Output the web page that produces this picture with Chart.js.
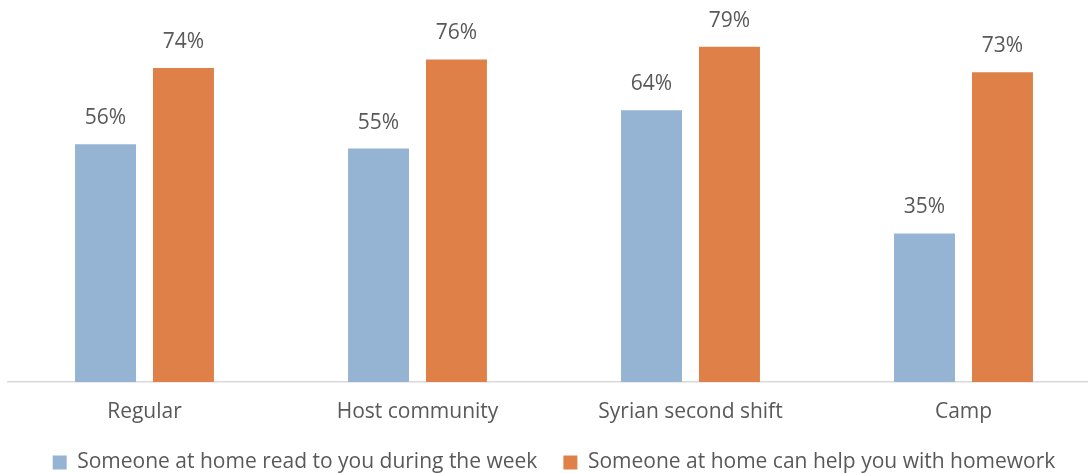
<!DOCTYPE html>
<html>
<head>
<meta charset="utf-8">
<script src="https://cdn.jsdelivr.net/npm/chart.js@4/dist/chart.umd.min.js"></script>
<style>
  html, body { margin: 0; padding: 0; background: #fff; overflow: hidden; }
  #wrap { position: relative; width: 1100px; height: 483px; }
</style>
</head>
<body>
<div id="wrap"><canvas id="bar-chart"></canvas></div>
<script>
// Categories and series values (percent)
var categories = ['Regular', 'Host community', 'Syrian second shift', 'Camp'];
var readToYou = [56, 55, 64, 35];
var helpHomework = [74, 76, 79, 73];
var seriesNames = ['Someone at home read to you during the week', 'Someone at home can help you with homework'];

var textColor = '#595959';
var fontFamily = "'Open Sans', 'Liberation Sans', sans-serif";

// Draws the percent label above each bar
var valueLabels = {
  id: 'valueLabels',
  afterDatasetsDraw: function (chart) {
    var ctx = chart.ctx;
    ctx.save();
    ctx.fillStyle = textColor;
    ctx.font = '21px ' + fontFamily;
    ctx.textAlign = 'center';
    ctx.textBaseline = 'middle';
    chart.data.datasets.forEach(function (ds, i) {
      chart.getDatasetMeta(i).data.forEach(function (bar, j) {
        ctx.fillText(ds.data[j] + '%', bar.x, bar.y - 26);
      });
    });
    ctx.restore();
  }
};

document.addEventListener('DOMContentLoaded', function () {
  var chartContainer = document.getElementById('bar-chart');

  var chartData = {
    labels: categories,
    datasets: [{
      label: seriesNames[0],
      data: readToYou,
      backgroundColor: '#95B3D3'
    }, {
      label: seriesNames[1],
      data: helpHomework,
      backgroundColor: '#DE8047'
    }]
  };

  var chartOptions = {
    responsive: true,
    maintainAspectRatio: false,
    animation: false,
    layout: { padding: { left: 8, right: 0, top: 0, bottom: 0 } },
    datasets: {
      bar: { categoryPercentage: 0.571, barPercentage: 0.782 }
    },
    scales: {
      x: {
        grid: { display: false, drawTicks: false },
        border: { display: true, color: '#D9D9D9', width: 1.5 },
        ticks: {
          color: textColor,
          font: { size: 21, family: fontFamily },
          padding: 17
        },
        // trim the label band so the legend sits close under it
        afterFit: function (scale) { scale.height = 44; }
      },
      y: {
        display: false,
        min: 0,
        max: 90
      }
    },
    plugins: {
      legend: {
        position: 'bottom',
        labels: {
          color: textColor,
          font: { size: 21, family: fontFamily },
          boxWidth: 14,
          boxHeight: 14,
          padding: 26
        }
      },
      tooltip: { enabled: false }
    }
  };

  new Chart(chartContainer, {
    type: 'bar',
    data: chartData,
    options: chartOptions,
    plugins: [valueLabels]
  });
});
</script>
</body>
</html>
